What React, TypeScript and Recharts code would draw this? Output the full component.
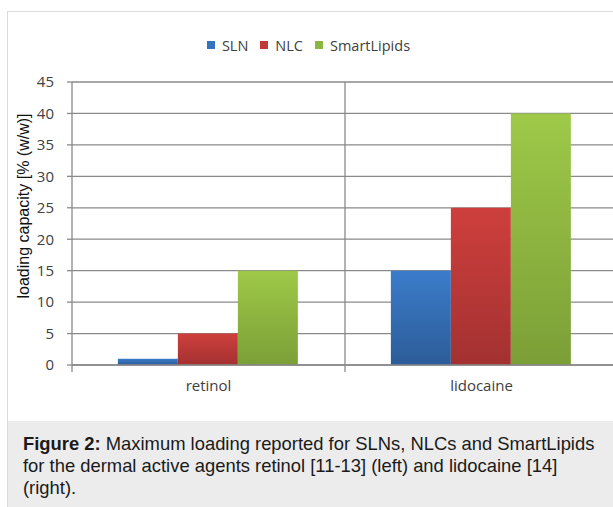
import {
  BarChart,
  Bar,
  XAxis,
  YAxis,
  CartesianGrid,
  Legend,
} from "recharts";

const categories = ["retinol", "lidocaine"];
const slnValues = [1, 15];
const nlcValues = [5, 25];
const smartLipidsValues = [15, 40];
const yTicks = [0, 5, 10, 15, 20, 25, 30, 35, 40, 45];

const chartData = categories.map((name, i) => ({
  name,
  SLN: slnValues[i],
  NLC: nlcValues[i],
  SmartLipids: smartLipidsValues[i],
}));

const series = [
  { key: "SLN", top: "#3b7cca", bottom: "#2c5c98", swatch: "#3572c0" },
  { key: "NLC", top: "#ce3f3c", bottom: "#a33131", swatch: "#c23a37" },
  { key: "SmartLipids", top: "#9ec948", bottom: "#7b9f37", swatch: "#8db640" },
];

const gridColor = "#8a8a8a";
const labelFont = "'Open Sans', 'Noto Sans', sans-serif";

function CategoryTick(props: any) {
  const { x, y, payload } = props;
  const half = payload && payload.offset ? payload.offset : 0;
  return (
    <g>
      <line x1={x - half} x2={x - half} y1={y - 15} y2={y - 8} stroke={gridColor} strokeWidth={1.3} />
      <text
        x={x}
        y={y}
        dy="0.75em"
        textAnchor="middle"
        fill="#404040"
        style={{ fontFamily: labelFont, fontSize: 15 }}
      >
        {payload.value}
      </text>
    </g>
  );
}

function LegendContent(props: any) {
  const { payload } = props;
  return (
    <div style={{ display: "flex", justifyContent: "center", alignItems: "center", height: 18 }}>
      {(payload || []).map((entry: any) => {
        const s = series.find((d) => d.key === entry.dataKey);
        return (
          <div key={entry.value} style={{ display: "flex", alignItems: "center", marginRight: 12 }}>
            <span
              style={{
                display: "inline-block",
                width: 8,
                height: 8,
                background: s ? s.swatch : entry.color,
                marginRight: 7,
              }}
            />
            <span style={{ fontFamily: labelFont, fontSize: 14.5, color: "#404040" }}>
              {entry.value}
            </span>
          </div>
        );
      })}
    </div>
  );
}

const seriesOrder = (item: any) => series.findIndex((s) => s.key === item.dataKey);

export default function App() {
  return (
    <div
      style={{
        position: "fixed",
        left: 0,
        top: 0,
        width: 613,
        height: 507,
        overflow: "hidden",
        background: "#ffffff",
      }}
    >
      <div
        style={{
          position: "absolute",
          left: 7,
          top: 11,
          right: -5,
          bottom: 0,
          borderLeft: "1px solid #dadada",
          borderTop: "1px solid #dadada",
        }}
      />
      <div style={{ position: "absolute", left: 0, top: 0 }}>
        <BarChart
          width={640}
          height={420}
          data={chartData}
          margin={{ top: 64, right: 22, left: 7, bottom: 0 }}
          barCategoryGap="16.8%"
          barGap={0}
        >
          <defs>
            {series.map((s) => (
              <linearGradient key={s.key} id={`grad-${s.key}`} x1="0" y1="0" x2="0" y2="1">
                <stop offset="0%" stopColor={s.top} />
                <stop offset="100%" stopColor={s.bottom} />
              </linearGradient>
            ))}
          </defs>
          <CartesianGrid
            stroke={gridColor}
            strokeWidth={1.3}
            verticalCoordinatesGenerator={({ offset }: any) => [offset.left + offset.width / 2]}
          />
          <XAxis
            dataKey="name"
            height={55}
            axisLine={{ stroke: gridColor, strokeWidth: 1.3 }}
            tickLine={false}
            tickSize={7}
            tickMargin={8}
            tick={<CategoryTick />}
            interval={0}
          />
          <YAxis
            width={65}
            domain={[0, 45]}
            ticks={yTicks}
            interval={0}
            axisLine={{ stroke: gridColor, strokeWidth: 1.3 }}
            tickLine={{ stroke: gridColor, strokeWidth: 1.3 }}
            tickSize={5}
            tickMargin={13}
            tick={{ fill: "#404040", fontSize: 15, fontFamily: labelFont }}
            label={{
              content: ({ viewBox }: any) => {
                const cx = viewBox.x + 22;
                const cy = 206;
                return (
                  <text
                    x={cx}
                    y={cy}
                    transform={`rotate(-90, ${cx}, ${cy})`}
                    textAnchor="middle"
                    fill="#111111"
                    style={{ fontFamily: "'Liberation Sans', Arial, sans-serif", fontSize: 16 }}
                  >
                    loading capacity [% (w/w)]
                  </text>
                );
              },
            }}
          />
          <Legend
            verticalAlign="top"
            itemSorter={seriesOrder}
            content={<LegendContent />}
            wrapperStyle={{ top: 36, left: 8, width: 613 }}
          />
          {series.map((s) => (
            <Bar key={s.key} dataKey={s.key} fill={`url(#grad-${s.key})`} isAnimationActive={false} />
          ))}
        </BarChart>
      </div>
      <div
        style={{
          position: "absolute",
          left: 8,
          top: 421,
          right: 0,
          bottom: 0,
          background: "#ececec",
          padding: "12px 0 0 15px",
          fontFamily: "'Liberation Sans', Arial, sans-serif",
          fontSize: 18.4,
          lineHeight: "22px",
          color: "#1a1a1a",
          boxSizing: "border-box",
          whiteSpace: "nowrap",
        }}
      >
        <b>Figure 2:</b> Maximum loading reported for SLNs, NLCs and SmartLipids
        <br />
        for the dermal active agents retinol [11-13] (left) and lidocaine [14]
        <br />
        (right).
      </div>
    </div>
  );
}
